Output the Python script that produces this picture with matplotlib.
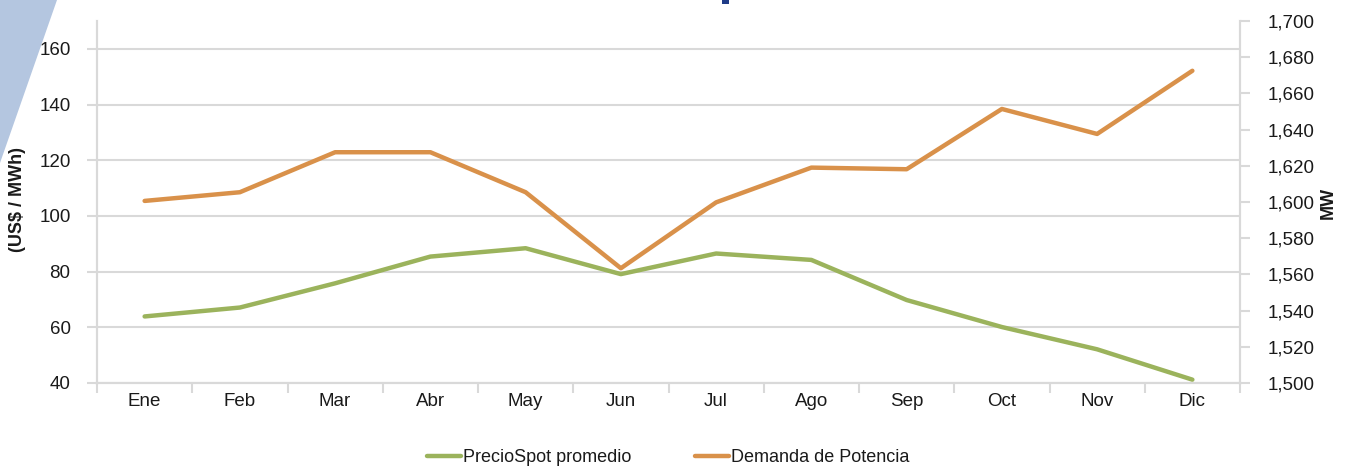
import matplotlib
matplotlib.use("Agg")
import matplotlib.pyplot as plt
from matplotlib.patches import Polygon, Rectangle
from matplotlib.ticker import FuncFormatter

months = ["Ene", "Feb", "Mar", "Abr", "May", "Jun", "Jul", "Ago", "Sep", "Oct", "Nov", "Dic"]
precio_spot = [63.9, 67.1, 75.8, 85.4, 88.4, 79.1, 86.5, 84.2, 69.8, 60.1, 52.1, 41.2]
demanda = [1600.6, 1605.4, 1627.5, 1627.5, 1605.4, 1563.4, 1599.8, 1619.0, 1618.1, 1651.4, 1637.6, 1672.5]
left_ticks = [40, 60, 80, 100, 120, 140, 160]
right_ticks = [1500, 1520, 1540, 1560, 1580, 1600, 1620, 1640, 1660, 1680, 1700]

FONT = ["Liberation Sans", "DejaVu Sans"]
plt.rcParams["font.family"] = FONT
GREEN = "#9BB35C"
ORANGE = "#D9914A"
GRID = "#D9D9D9"
TXT = "#1a1a1a"
FS = 13.5

fig = plt.figure(figsize=(13.46, 4.72), dpi=100)

# decorative background triangle
fig.patches.append(Polygon([(0, 1), (57 / 1346, 1), (0, 1 - 163 / 472)], closed=True,
                           transform=fig.transFigure, facecolor="#B4C6E0", edgecolor="none", zorder=-5))
fig.patches.append(Rectangle((722 / 1346, 1 - 4 / 472), 7 / 1346, 4 / 472,
                             transform=fig.transFigure, facecolor="#1F3C88", edgecolor="none", zorder=-5))

ax = fig.add_axes([97 / 1346, 1 - 383 / 472, (1240 - 97) / 1346, (383 - 21) / 472])
ax.patch.set_alpha(0)
ax2 = ax.twinx()

x = list(range(len(months)))
l1, = ax.plot(x, precio_spot, color=GREEN, lw=3.2, solid_capstyle="round", solid_joinstyle="round",
              label="PrecioSpot promedio", zorder=3)
l2, = ax2.plot(x, demanda, color=ORANGE, lw=3.2, solid_capstyle="round", solid_joinstyle="round",
               label="Demanda de Potencia", zorder=3)

ax.set_xlim(-0.5, len(months) - 0.5)
ax.set_ylim(40, 170)
ax.set_yticks(left_ticks)
ax2.set_ylim(1500, 1700)
ax2.set_yticks(right_ticks)
ax2.yaxis.set_major_formatter(FuncFormatter(lambda v, p: f"{int(v):,}"))

# x ticks at boundaries, labels at centers
ax.set_xticks([i - 0.5 for i in range(len(months) + 1)])
ax.set_xticklabels([])
ax.set_xticks(x, minor=True)
ax.set_xticklabels(months, minor=True, fontsize=FS, color=TXT)
ax.tick_params(axis="x", which="major", length=7, width=1.5, color=GRID, direction="out")
ax.tick_params(axis="x", which="minor", length=0, pad=7)

ax.tick_params(axis="y", length=7, width=1.5, color=GRID, labelsize=FS, labelcolor=TXT, pad=12)
ax2.tick_params(axis="y", length=7, width=1.5, color=GRID, labelsize=FS, labelcolor=TXT, pad=13)

ax.yaxis.grid(True, color=GRID, lw=1.5)
ax.set_axisbelow(True)

for a in (ax, ax2):
    a.spines["top"].set_visible(False)
    for s in ("left", "right", "bottom"):
        a.spines[s].set_color(GRID)
        a.spines[s].set_linewidth(1.5)

fig.text(18 / 1346, 1 - 200 / 472, "(US$ / MWh)", rotation=90, ha="center", va="center",
         fontsize=13, fontweight="bold", color=TXT)
fig.text(1328 / 1346, 1 - 203 / 472, "MW", rotation=90, ha="center", va="center",
         fontsize=13, fontweight="bold", color=TXT)

fig.legend(handles=[l1, l2], loc="center", bbox_to_anchor=(668 / 1346, 1 - 458 / 472), ncol=2,
           frameon=False, fontsize=13, handlelength=1.9, handletextpad=0.1, columnspacing=3.5,
           labelcolor=TXT)

fig.savefig("out.png", dpi=100)
